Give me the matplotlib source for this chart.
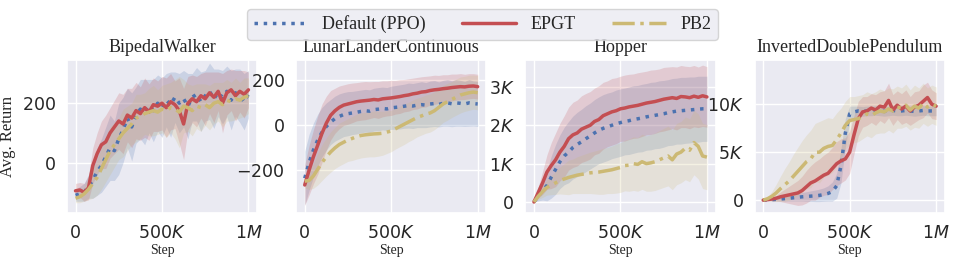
import numpy as np
import matplotlib
matplotlib.use("Agg")
import matplotlib.pyplot as plt
import seaborn as sns
from matplotlib.ticker import FuncFormatter

# steps in K (every 25K)
steps = np.arange(0, 1001, 25) * 1000

titles = ['BipedalWalker', 'LunarLanderContinuous', 'Hopper', 'InvertedDoublePendulum']
methods = ['Default (PPO)', 'EPGT', 'PB2']

# BipedalWalker
bw_ppo = [-110, -105, -100, -80, -60, -30, -10, 20, 50, 40, 80, 110, 150, 120, 160, 180, 170, 190, 175, 200,
          185, 210, 195, 220, 200, 215, 190, 220, 230, 205, 225, 240, 215, 235, 220, 240, 210, 235, 225, 205, 230]
bw_ppo_sd = [20, 25, 30, 40, 60, 80, 90, 100, 110, 100, 120, 110, 100, 115, 95, 100, 110, 90, 105, 95,
             100, 90, 110, 85, 100, 95, 110, 80, 90, 100, 85, 95, 100, 80, 90, 85, 100, 80, 90, 95, 80]
bw_epgt = [-95, -92, -100, -85, -10, 30, 60, 70, 100, 120, 140, 130, 160, 150, 175, 165, 185, 170, 195, 190,
           200, 185, 205, 195, 175, 130, 200, 215, 205, 225, 215, 235, 220, 240, 200, 235, 245, 225, 240, 230, 245]
bw_epgt_sd = [25, 25, 30, 40, 60, 70, 80, 90, 85, 90, 95, 100, 90, 100, 95, 90, 100, 95, 90, 85,
              90, 100, 95, 80, 110, 120, 90, 80, 85, 75, 90, 70, 85, 65, 100, 75, 70, 85, 70, 80, 60]
bw_pb2 = [-120, -115, -105, -90, -70, -50, -20, 10, 40, 60, 80, 100, 115, 130, 150, 155, 165, 170, 175, 170,
          180, 175, 185, 180, 170, 190, 185, 175, 190, 185, 195, 185, 200, 205, 195, 210, 205, 215, 210, 220, 225]
bw_pb2_sd = [15, 20, 25, 35, 50, 60, 70, 75, 80, 75, 70, 80, 75, 70, 80, 75, 70, 80, 85, 75,
             80, 90, 85, 100, 120, 90, 80, 85, 75, 80, 70, 75, 70, 65, 75, 70, 65, 70, 60, 65, 60]

# LunarLanderContinuous
ll_ppo = [-235, -165, -110, -65, -30, -5, 15, 30, 40, 48, 52, 55, 58, 62, 65, 63, 70, 72, 75, 73,
          78, 80, 82, 85, 88, 86, 90, 92, 90, 95, 97, 93, 98, 100, 96, 100, 98, 95, 100, 97, 95]
ll_ppo_sd = [120, 125, 120, 115, 110, 105, 100, 100, 100, 98, 98, 96, 96, 95, 95, 95, 95, 96, 95, 95,
             96, 97, 98, 98, 100, 100, 100, 102, 100, 102, 102, 100, 102, 104, 102, 104, 102, 100, 104, 100, 100]
ll_epgt = [-265, -200, -140, -88, -35, 10, 45, 65, 80, 90, 95, 100, 105, 108, 110, 112, 115, 113, 118, 120,
           122, 125, 128, 132, 135, 140, 143, 148, 150, 155, 158, 160, 163, 165, 168, 170, 172, 171, 174, 175, 172]
ll_epgt_sd = [90, 110, 120, 130, 130, 120, 110, 100, 95, 90, 90, 88, 85, 85, 85, 82, 80, 82, 80, 78,
              78, 75, 75, 72, 72, 70, 70, 68, 68, 65, 65, 62, 62, 60, 60, 58, 58, 56, 56, 55, 55]
ll_pb2 = [-248, -245, -225, -195, -165, -140, -118, -100, -85, -75, -65, -58, -50, -45, -42, -40, -38, -37, -35, -30,
          -25, -15, -5, 5, 15, 25, 35, 42, 50, 55, 65, 80, 95, 105, 115, 125, 135, 140, 145, 148, 145]
ll_pb2_sd = [30, 40, 55, 70, 80, 85, 90, 92, 95, 95, 95, 98, 100, 100, 100, 100, 102, 100, 98, 95,
             92, 90, 90, 90, 88, 88, 86, 85, 85, 85, 84, 84, 82, 82, 80, 80, 80, 78, 78, 76, 76]

# Hopper
hp_ppo = [0, 150, 300, 430, 650, 850, 1050, 1200, 1300, 1420, 1500, 1570, 1650, 1720, 1800, 1870, 1920, 1960, 2000, 2040,
          2070, 2100, 2120, 2150, 2170, 2190, 2220, 2240, 2260, 2280, 2300, 2330, 2350, 2370, 2380, 2390, 2400, 2410, 2420, 2430, 2430]
hp_ppo_sd = [0, 120, 250, 400, 550, 650, 700, 750, 800, 820, 840, 850, 860, 860, 870, 870, 880, 880, 870, 880,
             880, 870, 880, 880, 870, 880, 870, 880, 870, 880, 870, 860, 870, 860, 870, 860, 860, 850, 860, 850, 850]
hp_epgt = [0, 250, 500, 780, 950, 1100, 1300, 1450, 1650, 1750, 1800, 1900, 1950, 2000, 2100, 2150, 2250, 2300, 2350, 2380,
           2430, 2450, 2480, 2500, 2520, 2550, 2580, 2600, 2620, 2650, 2680, 2700, 2720, 2700, 2750, 2740, 2720, 2760, 2730, 2770, 2740]
hp_epgt_sd = [0, 150, 300, 450, 600, 700, 750, 800, 820, 850, 860, 870, 880, 880, 870, 880, 870, 860, 870, 860,
              850, 860, 850, 840, 850, 840, 830, 840, 830, 820, 830, 820, 810, 820, 810, 800, 810, 800, 790, 800, 790]
hp_pb2 = [0, 150, 270, 380, 440, 500, 560, 600, 640, 670, 700, 720, 740, 760, 770, 780, 800, 820, 840, 870,
          900, 950, 960, 1000, 980, 1050, 1000, 1020, 1050, 1100, 1150, 1200, 1100, 1250, 1300, 1400, 1350, 1550, 1450, 1200, 1170]
hp_pb2_sd = [0, 80, 150, 200, 250, 300, 350, 400, 450, 450, 480, 500, 520, 540, 560, 580, 600, 600, 620, 640,
             650, 660, 680, 700, 700, 720, 720, 740, 750, 760, 770, 780, 780, 800, 800, 820, 820, 840, 850, 850, 850]

# InvertedDoublePendulum
id_ppo = [0, 20, 50, 80, 120, 160, 200, 250, 300, 350, 380, 420, 450, 500, 580, 700, 900, 1500, 3600, 7000,
          9000, 9200, 9300, 9250, 9300, 9300, 9350, 9300, 9250, 9300, 9350, 9300, 9300, 9350, 9300, 9250, 9300, 9350, 9300, 9300, 9300]
id_ppo_sd = [0, 50, 100, 150, 200, 250, 300, 350, 400, 450, 500, 550, 600, 650, 700, 800, 1000, 1300, 1800, 1500,
             800, 600, 500, 500, 500, 500, 500, 500, 500, 500, 500, 500, 500, 500, 500, 500, 500, 500, 500, 500, 500]
id_epgt = [0, 50, 120, 200, 350, 450, 550, 650, 750, 1000, 1400, 1800, 2000, 2300, 2600, 2800, 3300, 3800, 4100, 4300,
           5000, 6800, 8500, 9200, 9300, 9600, 9400, 9800, 9700, 10400, 9400, 9900, 9500, 9800, 9300, 9700, 9900, 10300, 10700, 10000, 9800]
id_epgt_sd = [0, 100, 200, 300, 500, 700, 900, 1100, 1300, 1500, 1700, 1800, 2000, 2000, 2100, 2200, 2200, 2300, 2300, 2200,
              2200, 2000, 1800, 1600, 1500, 1500, 1600, 1500, 1700, 1800, 1600, 1500, 1600, 1700, 1500, 1600, 1500, 1700, 1600, 1500, 1400]
id_pb2 = [0, 150, 400, 750, 1200, 1600, 2000, 2500, 3000, 3500, 4000, 4300, 5000, 5000, 5400, 5600, 5700, 6300, 7000, 7800,
          8300, 8400, 8500, 8700, 9000, 8800, 9100, 9300, 9200, 9500, 9300, 9700, 9600, 9900, 9400, 9800, 9600, 10100, 9700, 10000, 9800]
id_pb2_sd = [0, 200, 500, 900, 1300, 1700, 2000, 2300, 2500, 2700, 2800, 3000, 3000, 3200, 3000, 3000, 2800, 2800, 2600, 2500,
             2500, 2400, 2400, 2300, 2300, 2300, 2200, 2300, 2200, 2200, 2300, 2200, 2100, 2200, 2100, 2200, 2100, 2100, 2000, 2000, 2000]

data = [
    [(bw_ppo, bw_ppo_sd), (bw_epgt, bw_epgt_sd), (bw_pb2, bw_pb2_sd)],
    [(ll_ppo, ll_ppo_sd), (ll_epgt, ll_epgt_sd), (ll_pb2, ll_pb2_sd)],
    [(hp_ppo, hp_ppo_sd), (hp_epgt, hp_epgt_sd), (hp_pb2, hp_pb2_sd)],
    [(id_ppo, id_ppo_sd), (id_epgt, id_epgt_sd), (id_pb2, id_pb2_sd)],
]
ylims = [(-170, 345), (-390, 290), (-290, 3700), (-1350, 14600)]
yticks = [[0, 200], [-200, 0, 200], [0, 1000, 2000, 3000], [0, 5000, 10000]]

sns.set_theme(style='darkgrid')
colors = sns.color_palette('deep')
line_colors = [colors[0], colors[3], colors[8]]
line_styles = [':', '-', '-.']
serif = ['Liberation Serif', 'DejaVu Serif']


def fmt(v, pos):
    if v == 0:
        return '0'
    if abs(v) >= 1e6:
        return r'$%gM$' % (v / 1e6)
    if abs(v) >= 1000:
        return r'$%gK$' % (v / 1000)
    return r'$%g$' % v


fig, axes = plt.subplots(1, 4, figsize=(9.69, 2.58), dpi=100)
fig.subplots_adjust(left=0.069, right=0.975, top=0.767, bottom=0.174, wspace=0.205)

for i, ax in enumerate(axes):
    handles = []
    for j, (mean, sd) in enumerate(data[i]):
        mean = np.array(mean, dtype=float)
        sd = np.array(sd, dtype=float)
        ax.fill_between(steps, mean - sd, mean + sd, color=line_colors[j], alpha=0.2, lw=0)
        h, = ax.plot(steps, mean, color=line_colors[j], ls=line_styles[j], lw=2.5, label=methods[j])
        handles.append(h)
    ax.set_ylim(*ylims[i])
    ax.set_yticks(yticks[i])
    ax.set_xticks([0, 500000, 1000000])
    ax.xaxis.set_major_formatter(FuncFormatter(fmt))
    ax.yaxis.set_major_formatter(FuncFormatter(fmt))
    ax.tick_params(labelsize=12.5, pad=2)
    ax.set_title(titles[i], fontsize=13, family=serif, pad=6)
    ax.set_xlabel('Step', fontsize=10, family=serif, labelpad=1)

axes[0].set_ylabel('Avg. Return', fontsize=12, family=serif, labelpad=4)

leg = fig.legend(handles, methods, loc='upper center', ncol=3, bbox_to_anchor=(0.498, 1.0),
                 prop={'family': serif, 'size': 13}, frameon=True, handlelength=3,
                 columnspacing=2.0, borderpad=0.35)
leg.get_frame().set_facecolor('#EAEAF2')
leg.get_frame().set_edgecolor('#CCCCCC')

fig.savefig('out.png', dpi=100)
